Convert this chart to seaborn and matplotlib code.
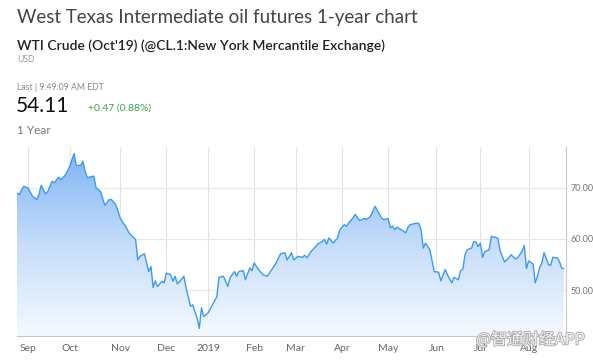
import matplotlib
matplotlib.use("Agg")
import matplotlib.patheffects as pe
import matplotlib.pyplot as plt
import numpy as np
import pandas as pd
import seaborn as sns
from matplotlib.colors import LinearSegmentedColormap

# (front-month WTI, USD)
dates = [
    "2018-08-27", "2018-08-28", "2018-08-30", "2018-09-04", "2018-09-06", "2018-09-10", "2018-09-11",
    "2018-09-12", "2018-09-14", "2018-09-17", "2018-09-19", "2018-09-20", "2018-09-24", "2018-09-25",
    "2018-09-27", "2018-10-01", "2018-10-02", "2018-10-03", "2018-10-04", "2018-10-08", "2018-10-09",
    "2018-10-10", "2018-10-11", "2018-10-16", "2018-10-17", "2018-10-19", "2018-10-23", "2018-10-25",
    "2018-10-26", "2018-10-30", "2018-11-01", "2018-11-02", "2018-11-05", "2018-11-07", "2018-11-12",
    "2018-11-13", "2018-11-14", "2018-11-16", "2018-11-20", "2018-11-21", "2018-11-23", "2018-11-26",
    "2018-11-27", "2018-11-29", "2018-11-30", "2018-12-03", "2018-12-06", "2018-12-07", "2018-12-10",
    "2018-12-11", "2018-12-12", "2018-12-14", "2018-12-17", "2018-12-19", "2018-12-20", "2018-12-21",
    "2018-12-24", "2018-12-26", "2018-12-27", "2018-12-28", "2019-01-02", "2019-01-04", "2019-01-08",
    "2019-01-09", "2019-01-11", "2019-01-15", "2019-01-16", "2019-01-18", "2019-01-22", "2019-01-23",
    "2019-01-25", "2019-01-28", "2019-01-30", "2019-01-31", "2019-02-01", "2019-02-05", "2019-02-07",
    "2019-02-11", "2019-02-13", "2019-02-15", "2019-02-20", "2019-02-22", "2019-02-25", "2019-02-27",
    "2019-02-28", "2019-03-04", "2019-03-06", "2019-03-07", "2019-03-08", "2019-03-12", "2019-03-14",
    "2019-03-15", "2019-03-19", "2019-03-20", "2019-03-21", "2019-03-22", "2019-03-26", "2019-03-28",
    "2019-03-29", "2019-04-02", "2019-04-03", "2019-04-04", "2019-04-08", "2019-04-09", "2019-04-11",
    "2019-04-15", "2019-04-16", "2019-04-18", "2019-04-23", "2019-04-24", "2019-04-26", "2019-04-29",
    "2019-05-01", "2019-05-02", "2019-05-03", "2019-05-06", "2019-05-07", "2019-05-09", "2019-05-13",
    "2019-05-14", "2019-05-15", "2019-05-20", "2019-05-21", "2019-05-22", "2019-05-23", "2019-05-24",
    "2019-05-29", "2019-05-31", "2019-06-04", "2019-06-05", "2019-06-07", "2019-06-10", "2019-06-12",
    "2019-06-13", "2019-06-17", "2019-06-18", "2019-06-19", "2019-06-20", "2019-06-21", "2019-06-25",
    "2019-06-26", "2019-06-27", "2019-06-28", "2019-07-01", "2019-07-02", "2019-07-03", "2019-07-08",
    "2019-07-09", "2019-07-11", "2019-07-12", "2019-07-15", "2019-07-16", "2019-07-17", "2019-07-19",
    "2019-07-22", "2019-07-24", "2019-07-25", "2019-07-29", "2019-07-30", "2019-07-31", "2019-08-01",
    "2019-08-05", "2019-08-06", "2019-08-07", "2019-08-08", "2019-08-09", "2019-08-12", "2019-08-14",
    "2019-08-15", "2019-08-16", "2019-08-20", "2019-08-21", "2019-08-22", "2019-08-23",
]
prices = [
    69.0, 68.7, 70.3, 70.0, 68.4, 67.7, 68.7,
    70.5, 68.8, 69.3, 71.3, 71.0, 72.1, 71.6,
    72.5, 74.2, 75.5, 76.7, 74.4, 74.4, 75.2,
    73.3, 72.0, 72.3, 70.0, 69.3, 66.6, 67.7,
    67.7, 66.7, 64.1, 63.3, 62.8, 61.2, 59.9,
    55.9, 56.6, 57.1, 53.6, 54.6, 50.5, 51.8,
    50.7, 51.7, 51.4, 53.3, 53.0, 51.7, 52.7,
    51.2, 51.6, 52.7, 50.4, 46.8, 47.1, 45.8,
    44.5, 42.5, 46.5, 44.8, 45.5, 47.1, 48.7,
    52.5, 52.7, 50.7, 52.4, 53.6, 52.7, 53.6,
    53.8, 52.0, 54.3, 53.8, 55.3, 54.0, 53.0,
    52.7, 54.0, 55.3, 57.1, 57.3, 55.9, 57.3,
    55.9, 56.6, 56.4, 56.8, 56.3, 57.6, 58.5,
    59.0, 59.5, 59.9, 59.0, 60.2, 59.2, 60.2,
    61.8, 62.8, 62.5, 63.1, 64.1, 64.8, 63.6,
    64.0, 63.8, 64.4, 66.4, 65.7, 64.1, 63.8,
    64.0, 62.2, 62.5, 61.8, 62.3, 61.8, 61.2,
    62.3, 62.8, 63.1, 63.0, 61.8, 58.2, 59.2,
    57.9, 53.6, 53.5, 51.8, 54.0, 53.0, 51.4,
    52.5, 52.0, 53.8, 54.0, 56.9, 57.9, 58.2,
    59.5, 59.4, 58.5, 59.2, 56.4, 57.5, 57.9,
    60.5, 60.3, 60.1, 57.7, 56.6, 55.5, 56.3,
    56.9, 56.1, 56.3, 57.6, 58.7, 54.2, 55.7,
    55.1, 51.4, 52.7, 54.4, 55.3, 57.3, 55.0,
    54.8, 56.4, 56.3, 55.6, 54.3, 54.2,
]
holidays = ["2018-09-03", "2018-11-22", "2018-12-05", "2018-12-25", "2019-01-01",
            "2019-01-21", "2019-02-18", "2019-04-19", "2019-05-27", "2019-07-04"]
month_labels = ["Sep", "Oct", "Nov", "Dec", "2019", "Feb", "Mar", "Apr", "May", "Jun", "Jul", "Aug"]
y_ticks = [50, 60, 70]

FONT = ["Lato", "DejaVu Sans"]


def main() -> None:
    sns.set_style("white")
    plt.rcParams["font.family"] = FONT

    # x axis is spaced by trading day, like the source chart
    cal = pd.bdate_range("2018-08-27", "2019-08-26")
    cal = cal.drop(pd.to_datetime(holidays))
    df = pd.DataFrame({"date": pd.to_datetime(dates), "price": prices})
    df["pos"] = cal.get_indexer(df["date"])
    firsts = cal.to_series().groupby(cal.to_period("M")).head(1)
    month_pos = [cal.get_loc(d) for d in firsts.index[1:13]]

    fig = plt.figure(figsize=(5.93, 3.6), dpi=100)
    W, H = 593, 360
    ax = fig.add_axes([17 / W, (H - 336) / H, (566 - 17) / W, (336 - 147) / H])
    ymin, ymax = 41.0, 78.0
    xmax = len(cal) - 1

    # gradient area under the line
    cmap = LinearSegmentedColormap.from_list("wti", ["#f5f9ff", "#c4dcfa", "#7cb2f3"])
    grad = np.linspace(0, 1, 256).reshape(-1, 1)
    img = ax.imshow(grad, cmap=cmap, origin="lower", aspect="auto",
                    extent=[0, xmax, ymin, ymax], zorder=1)
    poly = ax.fill_between(df["pos"], df["price"], ymin, color="none", zorder=0)
    img.set_clip_path(poly.get_paths()[0], transform=ax.transData)

    sns.lineplot(data=df, x="pos", y="price", ax=ax, color="#3d9be9", linewidth=1.0, zorder=3)

    ax.set_xlim(0, xmax)
    ax.set_ylim(ymin, ymax)
    for p in month_pos:
        ax.axvline(p, color="#e3e3e3", linewidth=0.8, zorder=0.5)
    for v in y_ticks:
        ax.axhline(v, color="#e8e8e8", linewidth=0.8, zorder=0.5)

    ax.set_xticks(month_pos)
    ax.set_xticklabels(month_labels)
    ax.yaxis.tick_right()
    ax.set_yticks(y_ticks)
    ax.set_yticklabels([f"{v:.2f}" for v in y_ticks])
    ax.tick_params(axis="x", length=0, pad=6, labelsize=7.5, labelcolor="#666666")
    ax.tick_params(axis="y", length=0, pad=3, labelsize=6.5, labelcolor="#777777")
    ax.set_xlabel("")
    ax.set_ylabel("")
    for side in ["left", "top"]:
        ax.spines[side].set_visible(False)
    for side in ["right", "bottom"]:
        ax.spines[side].set_color("#c8c8c8")
        ax.spines[side].set_linewidth(0.8)

    # header block
    fig.text(17 / W, 1 - 18 / H, "West Texas Intermediate oil futures 1-year chart",
             fontsize=13.5, color="#444444", va="center", ha="left")
    fig.text(17 / W, 1 - 46 / H, "WTI Crude (Oct'19) (@CL.1:New York Mercantile Exchange)",
             fontsize=10.0, color="#222222", va="center", ha="left", fontweight="semibold")
    fig.text(17 / W, 1 - 59.5 / H, "USD", fontsize=6.2, color="#999999", va="center", ha="left")
    fig.text(17 / W, 1 - 88 / H, "Last | 9:49:09 AM EDT", fontsize=6.2, color="#888888",
             va="center", ha="left")
    fig.text(16 / W, 1 - 106 / H, "54.11", fontsize=15, color="#111111", va="center", ha="left")
    fig.text(88 / W, 1 - 108 / H, "+0.47 (0.88%)", fontsize=7.5, color="#3aa54a",
             va="center", ha="left")
    fig.text(17 / W, 1 - 131 / H, "1 Year", fontsize=8.5, color="#777777", va="center", ha="left")

    # source watermark
    wm = fig.text(585 / W, 1 - 340 / H, "@智通财经APP", fontsize=11.5, color="#f4f4f4",
                  va="center", ha="right", family=["Noto Sans CJK SC", "DejaVu Sans"], zorder=10)
    wm.set_path_effects([pe.withStroke(linewidth=1.2, foreground="#a8a8a8")])

    fig.savefig("out.png", dpi=100)
    plt.close(fig)


if __name__ == "__main__":
    main()
